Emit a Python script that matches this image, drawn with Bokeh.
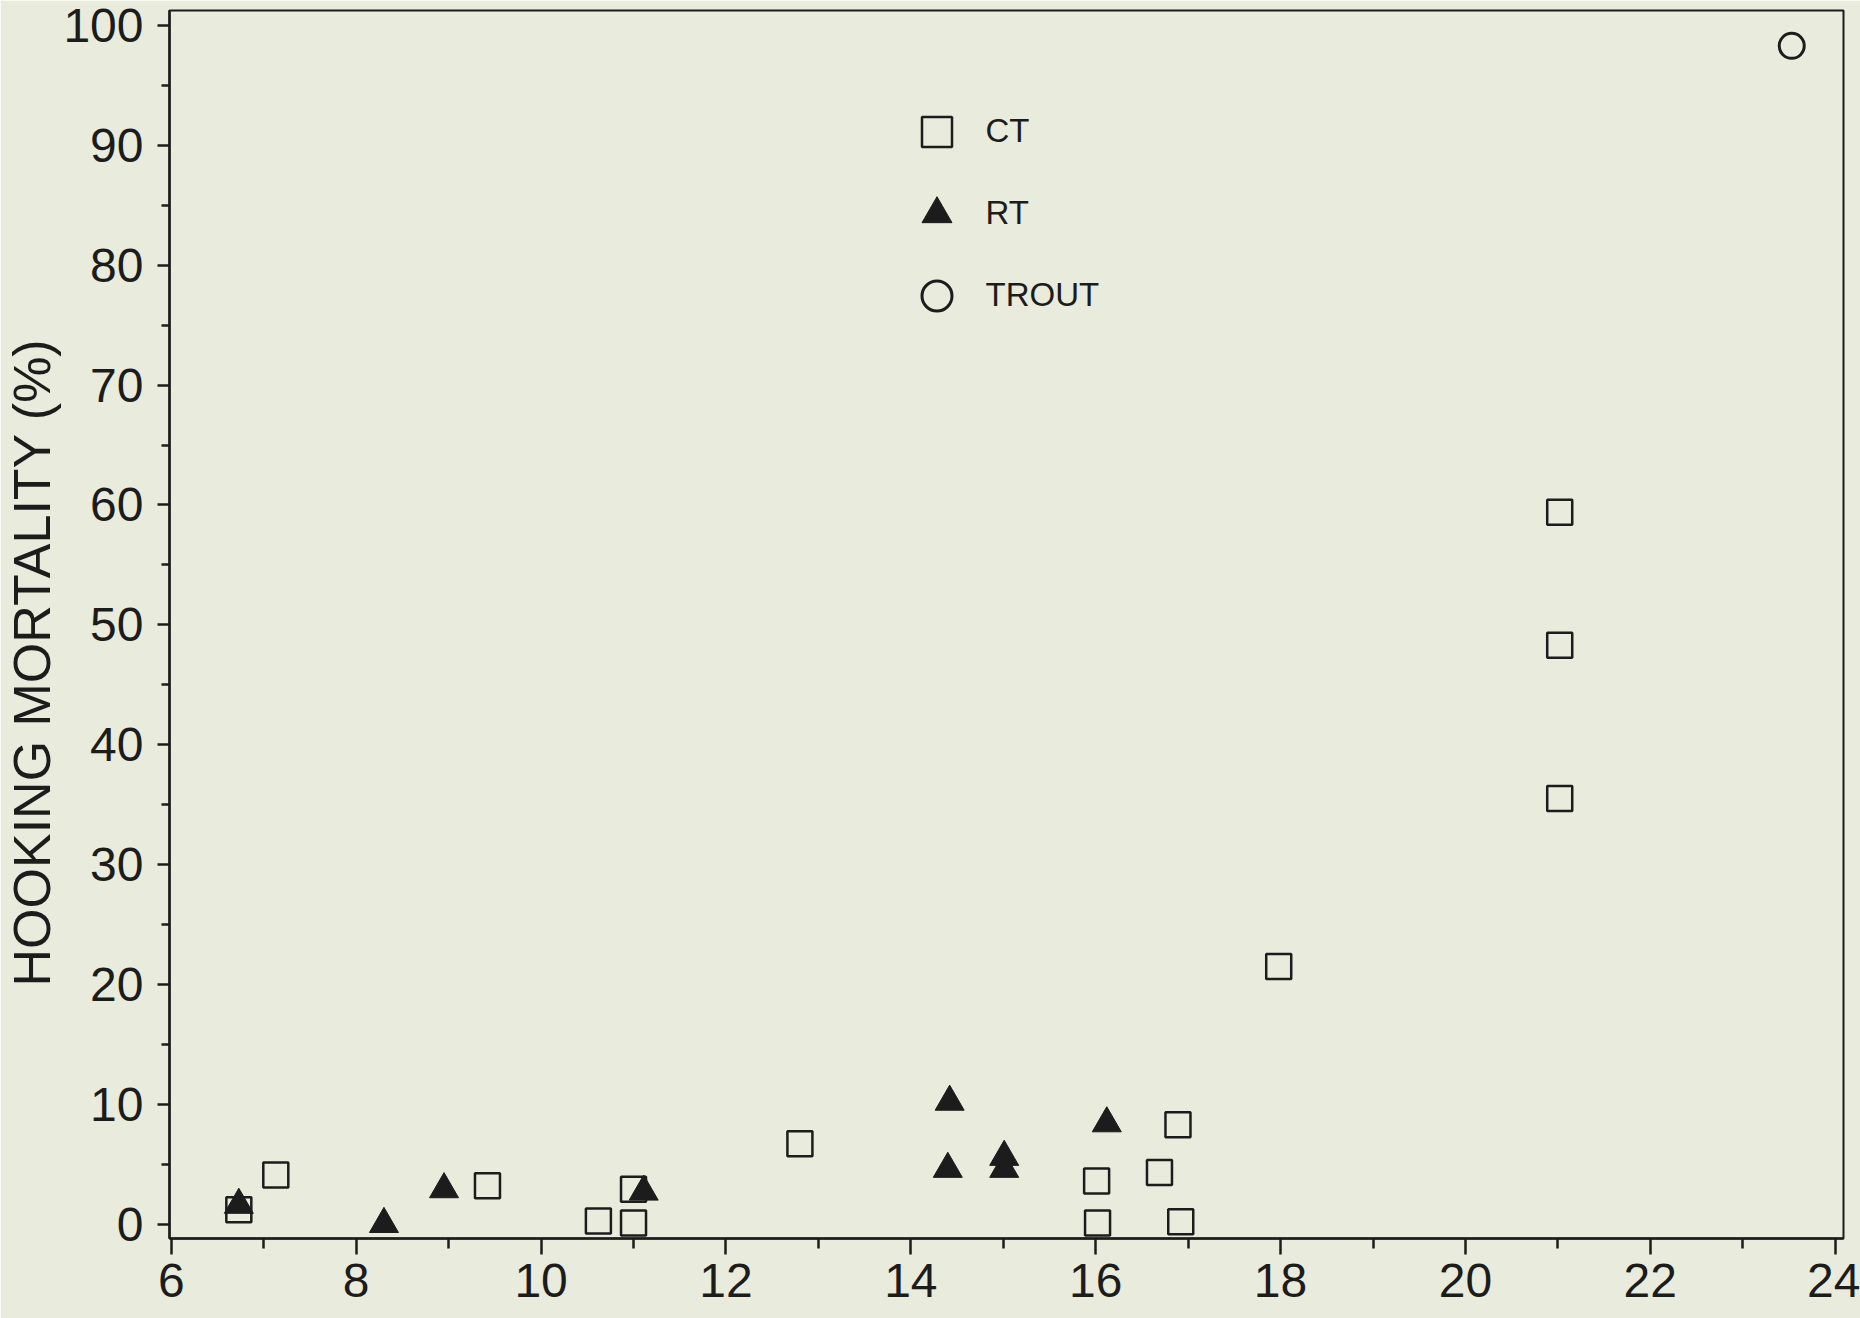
import numpy as np
from bokeh.plotting import figure
from bokeh.models import Range1d, FixedTicker, Legend, LegendItem, Title
from bokeh.embed import file_html
from bokeh.resources import INLINE

# ---- data ----
ct_temp = [6.73, 7.13, 9.42, 10.62, 11.0, 11.0, 12.80, 16.01, 16.02, 16.69, 16.89, 16.92, 17.98, 21.02, 21.02, 21.02]
ct_mort = [1.2, 4.1, 3.2, 0.25, 0.1, 2.9, 6.7, 3.6, 0.1, 4.3, 8.3, 0.2, 21.5, 35.5, 48.3, 59.4]

rt_temp = [6.73, 8.3, 8.95, 11.11, 14.42, 14.40, 15.01, 15.01, 16.12]
rt_mort = [1.6, 0.0, 2.9, 2.7, 10.2, 4.6, 4.6, 5.6, 8.4]

trout_temp = [23.53]
trout_mort = [98.3]

x_ticks = [6, 8, 10, 12, 14, 16, 18, 20, 22, 24]
y_ticks = [0, 10, 20, 30, 40, 50, 60, 70, 80, 90, 100]
x_minor = [t + 1 for t in x_ticks[:-1]]
y_minor = [t + 5 for t in y_ticks[:-1]]

series_labels = ["CT", "RT", "TROUT"]
y_title = "HOOKING MORTALITY (%)"

BG = "#e9ebdc"
INK = "#1c1c1c"
FONT = "Liberation Sans"

p = figure(width=1860, height=1318, output_backend="svg", toolbar_location=None,
           x_range=Range1d(5.98, 24.09), y_range=Range1d(-1.2, 101.25),
           min_border_left=165, min_border_right=17, min_border_top=10, min_border_bottom=80,
           background_fill_color=BG, border_fill_color=BG)

p.xgrid.grid_line_color = None
p.ygrid.grid_line_color = None
p.outline_line_color = INK
p.outline_line_width = 2
p.outline_line_alpha = 1

p.xaxis.ticker = FixedTicker(ticks=x_ticks, minor_ticks=x_minor)
p.yaxis.ticker = FixedTicker(ticks=y_ticks, minor_ticks=y_minor)

for ax, mo, mi, so in ((p.xaxis, 16, 10, 9), (p.yaxis, 12, 8, 14)):
    ax.axis_line_color = INK
    ax.axis_line_width = 2.5
    ax.major_tick_line_color = INK
    ax.minor_tick_line_color = INK
    ax.major_tick_line_width = 2.5
    ax.minor_tick_line_width = 2.5
    ax.major_tick_in = 0
    ax.minor_tick_in = 0
    ax.major_tick_out = mo
    ax.minor_tick_out = mi
    ax.major_label_standoff = so
    ax.major_label_text_font = FONT
    ax.major_label_text_font_size = "48px"
    ax.major_label_text_color = INK

# y-axis title as a side title so it can sit slightly below the frame centre
p.add_layout(Title(text=y_title, align="left", offset=252, standoff=0,
                   text_font=FONT, text_font_size="52px", text_font_style="normal",
                   text_color=INK), "left")

r_ct = p.scatter(ct_temp, ct_mort, marker="square", size=25, line_color=INK,
                 line_width=2.5, fill_color=BG)
r_rt = p.scatter(rt_temp, rt_mort, marker="triangle", size=29, line_color=INK,
                 line_width=1, fill_color=INK)
r_tr = p.scatter(trout_temp, trout_mort, marker="circle", size=25, line_color=INK,
                 line_width=3, fill_color=BG)

legend = Legend(items=[LegendItem(label=series_labels[0], renderers=[r_ct]),
                       LegendItem(label=series_labels[1], renderers=[r_rt]),
                       LegendItem(label=series_labels[2], renderers=[r_tr])],
                location=(729.5, 905.5), glyph_width=75, glyph_height=75,
                spacing=7, label_standoff=12, padding=0, margin=0,
                border_line_color=None, background_fill_alpha=0,
                label_text_font=FONT, label_text_font_size="33px",
                label_text_color=INK)
p.add_layout(legend)

open("out.html", "w").write(file_html(p, INLINE))
